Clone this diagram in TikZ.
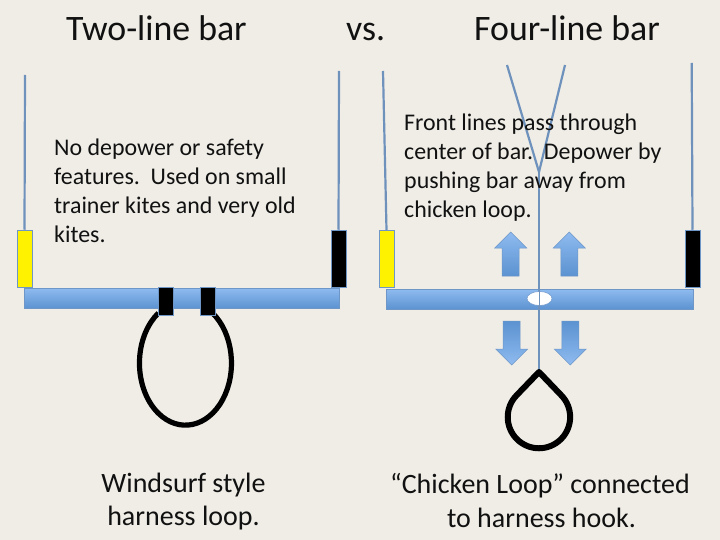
\documentclass[tikz,border=0pt]{standalone}
\usepackage{fontspec}
\setmainfont{Carlito}
\usetikzlibrary{shapes.geometric}
\definecolor{bgc}{HTML}{EFEDE6}
\definecolor{linec}{HTML}{6F92BD}
\definecolor{barlight}{HTML}{8FBBF0}
\definecolor{bardark}{HTML}{5B92D0}
\definecolor{edgec}{HTML}{6E97C8}
\definecolor{txt}{HTML}{111111}
\tikzset{
  x=1pt,y=-1pt,
  kiteline/.style={draw=linec,line width=2.2pt},
  barbox/.style={draw=edgec,line width=.6pt,top color=barlight,bottom color=bardark,shading angle=0},
  handle/.style={rectangle,inner sep=0pt,minimum width=15pt,minimum height=57pt,draw=edgec,line width=.5pt},
  clampbox/.style={rectangle,inner sep=0pt,minimum width=14.5pt,minimum height=28pt,fill=black,draw=edgec,line width=.4pt},
  loopline/.style={draw=black,line width=5.2pt,line join=round},
  upfill/.style={draw=edgec,line width=.5pt,top color=barlight,bottom color=bardark},
  downfill/.style={draw=edgec,line width=.5pt,top color=bardark,bottom color=barlight},
  title/.style={anchor=base west,inner sep=0pt,font=\fontsize{35.8}{36}\selectfont,text=txt},
  body/.style={anchor=north west,inner sep=0pt,align=left,font=\fontsize{23.9}{29}\selectfont,text=txt},
  caption/.style={anchor=north,inner sep=0pt,align=center,font=\fontsize{28}{33}\selectfont,text=txt},
  captionwide/.style={anchor=north,inner sep=0pt,align=center,font=\fontsize{28}{34.5}\selectfont,text=txt},
}
\newcommand{\uparrowshape}[2]{%
  \path[upfill] (#1,232) -- (#1+16,248) -- (#1+8.5,248) -- (#1+8.5,276) -- (#1-8.5,276) -- (#1-8.5,248) -- (#1-16,248) -- cycle;}
\newcommand{\downarrowshape}[2]{%
  \path[downfill] (#1,365) -- (#1+16,349) -- (#1+8.5,349) -- (#1+8.5,321) -- (#1-8.5,321) -- (#1-8.5,349) -- (#1-16,349) -- cycle;}
\begin{document}
\begin{tikzpicture}
\useasboundingbox (0,0) rectangle (720,540);
\fill[bgc] (0,0) rectangle (720,540);
% left side
\coordinate (lt) at (25,75);
\coordinate (rt) at (339,71);
\node[handle,fill=yellow] (ly) at (24.5,258.5) {};
\node[handle,fill=black] (lb) at (338.5,258.5) {};
\draw[kiteline] (lt) -- (ly.north);
\draw[kiteline] (rt) -- (lb.north);
\path[barbox] (24,288) rectangle (339,308.5);
\draw[loopline] (212.5,313) arc[start angle=-54,end angle=234,x radius=46,y radius=62];
\node[clampbox] (c1) at (165.5,301.5) {};
\node[clampbox] (c2) at (207.7,301.5) {};
% right side
\coordinate (rlt) at (383,71);
\coordinate (rrt) at (691.7,63);
\coordinate (ya) at (507,65);
\coordinate (yb) at (565,65);
\coordinate (yj) at (539,172);
\coordinate (ye) at (539,372);
\node[handle,fill=yellow] (ry) at (386.5,259) {};
\node[handle,fill=black] (rb) at (692.5,258.5) {};
\draw[kiteline] (rlt) -- (ry.north);
\draw[kiteline] (rrt) -- (rb.north);
\path[barbox] (386.5,289) rectangle (693,309.5);
\draw[kiteline] (ya) -- (yj) -- (yb);
\draw[kiteline] (yj) -- (ye);
\node[ellipse,inner sep=0pt,minimum width=25pt,minimum height=14pt,fill=white,draw=edgec,line width=.5pt] (hole) at (539.5,298.5) {};
\draw[kiteline,line width=1.4pt] (hole.north) -- (hole.south);
\draw[loopline,line width=6pt] (ye) -- (561,395) arc[start angle=-45,end angle=225,radius=31.2] -- cycle;
\uparrowshape{510.7}{}
\uparrowshape{569.3}{}
\downarrowshape{511.7}{}
\downarrowshape{570.3}{}
% texts
\node[title] (t1) at (66,41) {Two-line bar};
\node[title] (t2) at (346,41) {vs.};
\node[title] (t3) at (474,41) {Four-line bar};
\node[body] (b1) at (54,139) {No depower or safety\\features.\ \ Used on small\\trainer kites and very old\\kites.};
\node[body] (b2) at (404,113.5) {Front lines pass through\\center of bar.\ \ Depower by\\pushing bar away from\\chicken loop.};
\node[caption] (c3) at (183.5,472.5) {Windsurf style\\harness loop.};
\node[captionwide] (c4) at (540,473) {“Chicken Loop” connected\\\hspace*{3pt}to harness hook.};
\end{tikzpicture}
\end{document}
